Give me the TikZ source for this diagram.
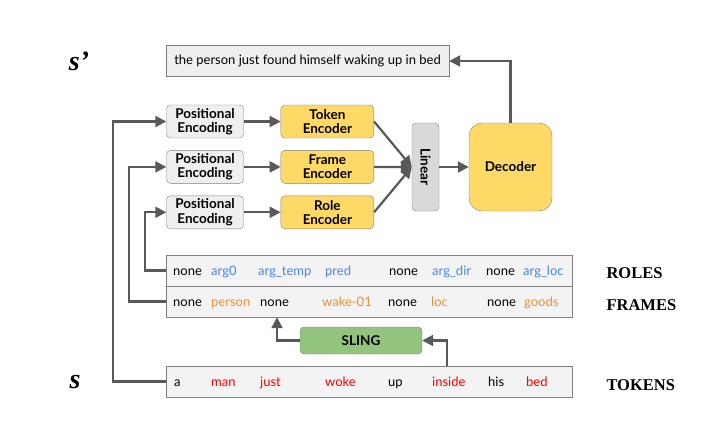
\documentclass[tikz,border=0pt]{standalone}
\usepackage{fontspec}
\setmainfont{Lato}
\newfontfamily\labelfont{Liberation Serif}
\usetikzlibrary{positioning, arrows.meta}

\definecolor{linegray}{HTML}{595959}
\definecolor{boxgray}{HTML}{EFEFEF}
\definecolor{tablegray}{HTML}{F3F3F3}
\definecolor{encyellow}{HTML}{FFD966}
\definecolor{lineargray}{HTML}{D9D9D9}
\definecolor{slinggreen}{HTML}{93C47D}
\definecolor{roleblue}{HTML}{4A86E8}
\definecolor{frameorange}{HTML}{E69138}
\definecolor{tokenred}{HTML}{FF0000}

\begin{document}
\begin{tikzpicture}[
    x=1pt, y=-1pt,
    font=\fontsize{13.5}{14.5}\selectfont\bfseries,
    posbox/.style={
      draw=gray,
      fill=boxgray,
      rounded corners=4pt,
      minimum width=77pt,
      minimum height=33pt,
      inner sep=1pt,
      align=center
    },
    encbox/.style={
      draw=gray,
      fill=encyellow,
      rounded corners=4pt,
      minimum width=93pt,
      minimum height=33pt,
      inner sep=1pt,
      align=center
    },
    row/.style={
      draw=gray,
      fill=tablegray,
      minimum width=406pt,
      minimum height=31pt,
      inner sep=0pt
    },
    word/.style={
      anchor=base west,
      inner sep=0pt,
      font=\fontsize{13}{14}\selectfont
    },
    sidelabel/.style={
      anchor=west,
      font=\labelfont\fontsize{16.5}{18}\selectfont\bfseries
    },
    varlabel/.style={
      font=\labelfont\fontsize{28}{30}\selectfont\bfseries\itshape
    },
    arrow/.style={
      draw=linegray,
      line width=2.2pt,
      -{Triangle[length=11pt,width=11pt]}
    },
]

\useasboundingbox (0,0) rectangle (712,428);

% Output sentence
\node[draw=gray, fill=boxgray, minimum width=283pt, minimum height=31pt,
      font=\fontsize{13}{14}\selectfont] (out) at (307.5,61)
      {the person just found himself waking up in bed};
\node[varlabel] (sprime) at (79,61) {s’};

% Positional encodings and encoders
\node[posbox] (pe1) at (205,121.5) {Positional\\Encoding};
\node[posbox, below=12pt of pe1] (pe2) {Positional\\Encoding};
\node[posbox, below=12pt of pe2] (pe3) {Positional\\Encoding};

\node[encbox, right=37pt of pe1] (tokenc) {Token\\Encoder};
\node[encbox, right=37pt of pe2] (frameenc) {Frame\\Encoder};
\node[encbox, right=37pt of pe3] (roleenc) {Role\\Encoder};

% Linear and decoder
\node[draw=gray, fill=lineargray, rounded corners=4pt, minimum width=88pt,
      minimum height=27pt, rotate=-90] (linear) at (425.5,167) {Linear};
\node[draw=gray, fill=encyellow, rounded corners=13pt, minimum width=83pt,
      minimum height=88pt] (decoder) at (510.5,167) {Decoder};

% Tables
\node[row] (roles) at (369,270.5) {};
\node[row] (frames) at (369,301.5) {};
\node[row] (tokens) at (369,381.5) {};

\foreach \w/\x/\c [count=\i] in {none/173/black, arg0/211/roleblue,
    arg\_temp/258/roleblue, pred/325/roleblue, none/389/black,
    arg\_dir/432/roleblue, none/486/black, arg\_loc/523/roleblue}
  \node[word, text=\c] (r\i) at (\x,275) {\w};

\foreach \w/\x/\c [count=\i] in {none/173/black, person/211/frameorange,
    none/260/black, wake-01/322/frameorange, none/388/black,
    loc/431/frameorange, none/487/black, goods/524/frameorange}
  \node[word, text=\c] (f\i) at (\x,306) {\w};

\foreach \w/\x/\c [count=\i] in {a/174/black, man/211/tokenred,
    just/260/tokenred, woke/325/tokenred, up/388/black,
    inside/432/tokenred, his/488/black, bed/526/tokenred}
  \node[word, text=\c] (t\i) at (\x,386) {\w};

\node[sidelabel] (roleslabel) at (603,273) {ROLES};
\node[sidelabel] (frameslabel) at (603,305) {FRAMES};
\node[sidelabel] (tokenslabel) at (603,385) {TOKENS};
\node[varlabel] (s) at (75,382) {s};

% SLING
\node[draw=gray, fill=slinggreen, rounded corners=4pt, minimum width=122pt,
      minimum height=27pt] (sling) at (361,340.5) {SLING};

% Arrows
\draw[arrow] (pe1) -- (tokenc);
\draw[arrow] (pe2) -- (frameenc);
\draw[arrow] (pe3) -- (roleenc);
\draw[arrow] (tokenc.east) -- (linear.south);
\draw[arrow] (frameenc.east) -- (linear.south);
\draw[arrow] (roleenc.east) -- (linear.south);
\draw[arrow] (linear) -- (decoder);
\draw[arrow] (decoder.north) |- (out.east);

\draw[arrow] (tokens.west) -- ++(-53,0) |- (pe1.west);
\draw[arrow] (frames.west) -- ++(-37,0) |- (pe2.west);
\draw[arrow] (roles.west) -- ++(-21,0) |- (pe3.west);

\draw[arrow] ([xshift=78pt]tokens.north) |- (sling.east);
\draw[arrow] (sling.west) -| ([xshift=-92pt]frames.south);

\end{tikzpicture}
\end{document}
